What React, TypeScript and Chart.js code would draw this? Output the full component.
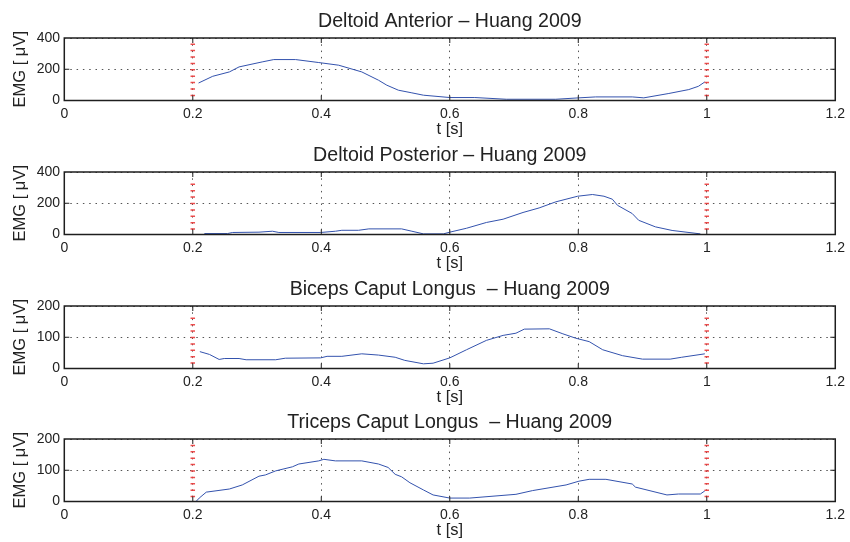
import React, { useEffect, useRef } from "react";
import { Chart, registerables } from "chart.js";
Chart.register(...registerables);

// ---------- data ----------
const xTickValues = [0, 0.2, 0.4, 0.6, 0.8, 1.0, 1.2];
const eventTimes = [0.2, 1.0];
const panelTitles = [
  "Deltoid Anterior \u2013 Huang 2009",
  "Deltoid Posterior \u2013 Huang 2009",
  "Biceps Caput Longus  \u2013 Huang 2009",
  "Triceps Caput Longus  \u2013 Huang 2009",
];
const yMaxes = [400, 400, 200, 200];
const yTickSteps = [200, 200, 100, 100];
const markerTops = [365, 326, 163, 182];

const deltAntT = [0.209, 0.231, 0.257, 0.272, 0.308, 0.326, 0.36, 0.396, 0.427, 0.463, 0.489, 0.502, 0.52, 0.541, 0.559, 0.6, 0.639, 0.688, 0.765, 0.801, 0.827, 0.884, 0.902, 0.941, 0.972, 0.987, 0.997];
const deltAntV = [112, 155, 183, 215, 247, 262, 262, 243, 226, 183, 130, 98, 66, 49, 34, 19, 19, 8, 8, 17, 23, 23, 17, 45, 70, 91, 119];

const deltPostT = [0.218, 0.254, 0.262, 0.303, 0.324, 0.334, 0.399, 0.422, 0.432, 0.458, 0.474, 0.525, 0.541, 0.559, 0.59, 0.6, 0.626, 0.657, 0.683, 0.714, 0.739, 0.765, 0.799, 0.822, 0.84, 0.853, 0.861, 0.884, 0.894, 0.92, 0.946, 0.99];
const deltPostV = [6, 6, 13, 15, 21, 13, 13, 21, 27, 27, 36, 36, 21, 4, 4, 15, 40, 77, 98, 141, 170, 209, 245, 256, 245, 226, 187, 134, 91, 49, 26, 4];

const bicepsT = [0.211, 0.226, 0.241, 0.249, 0.272, 0.283, 0.329, 0.344, 0.399, 0.409, 0.432, 0.463, 0.489, 0.515, 0.53, 0.559, 0.574, 0.6, 0.626, 0.657, 0.683, 0.703, 0.716, 0.755, 0.776, 0.796, 0.817, 0.838, 0.869, 0.9, 0.943, 0.961, 0.997];
const bicepsV = [54, 45, 29, 32, 32, 28, 28, 33, 34, 39, 39, 47, 43, 36, 26, 15, 17, 34, 60, 90, 106, 113, 126, 127, 111, 97, 86, 60, 41, 30, 30, 36, 47];

const tricepsT = [0.205, 0.21, 0.221, 0.257, 0.277, 0.303, 0.313, 0.329, 0.355, 0.365, 0.396, 0.404, 0.422, 0.463, 0.489, 0.504, 0.515, 0.525, 0.538, 0.559, 0.574, 0.6, 0.631, 0.703, 0.729, 0.781, 0.801, 0.817, 0.843, 0.884, 0.889, 0.938, 0.956, 0.99, 0.997];
const tricepsV = [0, 11, 30, 40, 53, 81, 85, 98, 111, 120, 130, 135, 130, 130, 120, 109, 87, 79, 60, 37, 21, 11, 11, 23, 35, 53, 65, 71, 71, 56, 46, 21, 24, 24, 34];

const seriesT = [deltAntT, deltPostT, bicepsT, tricepsT];
const seriesV = [deltAntV, deltPostV, bicepsV, tricepsV];

// ---------- style ----------
const FONT = "'Liberation Sans', Arial, Helvetica, sans-serif";
const TEXT = "#222";
const BLUE = "#3352ad";
const RED = "rgba(236,60,60,0.9)";
const panelTops = [0, 134, 268, 401];
const CANVAS_W = 850;
const CANVAS_H = 150;

const fmtTick = (v: number) => String(Number(v.toFixed(1)));

const matlabFrame = {
  id: "matlabFrame",
  afterDatasetsDraw(chart: any) {
    const { ctx, chartArea, scales } = chart;
    const { left, right, top, bottom } = chartArea;
    ctx.save();
    ctx.strokeStyle = "#1e1e1e";
    ctx.lineWidth = 1;
    ctx.setLineDash([]);
    const tl = 5;
    ctx.beginPath();
    for (const v of xTickValues) {
      if (v <= 0 || v >= 1.2) continue;
      const x = scales.x.getPixelForValue(v);
      ctx.moveTo(x, top);
      ctx.lineTo(x, top + tl);
      ctx.moveTo(x, bottom);
      ctx.lineTo(x, bottom - tl);
    }
    for (const t of scales.y.ticks) {
      const y = scales.y.getPixelForValue(t.value);
      if (Math.abs(y - top) < 1 || Math.abs(y - bottom) < 1) continue;
      ctx.moveTo(left, y);
      ctx.lineTo(left + tl, y);
      ctx.moveTo(right, y);
      ctx.lineTo(right - tl, y);
    }
    ctx.stroke();
    ctx.lineWidth = 1.5;
    ctx.strokeRect(left, top, right - left, bottom - top);
    ctx.restore();
  },
  afterDraw(chart: any, _args: any, opts: any) {
    const { ctx, chartArea } = chart;
    ctx.save();
    ctx.font = `19.6px ${FONT}`;
    ctx.fillStyle = TEXT;
    ctx.textAlign = "center";
    ctx.textBaseline = "alphabetic";
    ctx.fillText(opts.title || "", (chartArea.left + chartArea.right) / 2, chartArea.top - 11);
    ctx.restore();
  },
};

function Panel({ idx }: { idx: number }) {
  const ref = useRef<HTMLCanvasElement>(null);
  useEffect(() => {
    if (!ref.current) return;
    const yMax = yMaxes[idx];
    const step = yTickSteps[idx];
    const yTicks: number[] = [];
    for (let v = 0; v <= yMax + 1e-9; v += step) yTicks.push(v);

    const datasets: any[] = [
      {
        data: seriesT[idx].map((x, i) => ({ x, y: seriesV[idx][i] })),
        borderColor: BLUE,
        borderWidth: 1,
        pointRadius: 0,
        tension: 0,
        order: 1,
      },
      ...eventTimes.map((t) => ({
        data: [
          { x: t, y: markerTops[idx] },
          { x: t, y: 0 },
        ],
        borderColor: RED,
        borderWidth: 4.5,
        borderDash: [1.5, 4.9],
        borderCapStyle: "butt",
        borderJoinStyle: "miter",
        pointRadius: 0,
        tension: 0,
        order: 0,
      })),
    ];

    const gridCommon = { color: "#555", lineWidth: 1, drawTicks: false };
    const chart = new Chart(ref.current, {
      type: "line",
      data: { datasets },
      plugins: [matlabFrame as any],
      options: {
        animation: false,
        responsive: false,
        maintainAspectRatio: false,
        layout: { padding: { top: 38, right: 11, left: 0, bottom: 0 } },
        plugins: {
          legend: { display: false },
          tooltip: { enabled: false },
          title: { display: false },
          matlabFrame: { title: panelTitles[idx] },
        } as any,
        scales: {
          x: {
            type: "linear",
            min: 0,
            max: 1.2,
            afterBuildTicks: (s: any) => {
              s.ticks = xTickValues.map((value) => ({ value }));
            },
            afterFit: (s: any) => {
              s.height = CANVAS_H - 100.5;
            },
            ticks: {
              callback: (v: any) => fmtTick(Number(v)),
              font: { family: FONT, size: 14 },
              color: TEXT,
              padding: 5,
              maxRotation: 0,
              autoSkip: false,
            },
            grid: gridCommon,
            border: { display: false, dash: [1.5, 4.8] },
            title: {
              display: true,
              text: "t [s]",
              font: { family: FONT, size: 16.5 },
              color: TEXT,
              padding: { top: 0, bottom: 10.3 },
            },
          },
          y: {
            type: "linear",
            min: 0,
            max: yMax,
            afterBuildTicks: (s: any) => {
              s.ticks = yTicks.map((value) => ({ value }));
            },
            afterFit: (s: any) => {
              s.width = 64.3;
            },
            ticks: {
              callback: (v: any) => String(v),
              font: { family: FONT, size: 14 },
              color: TEXT,
              padding: 4.3,
            },
            grid: gridCommon,
            border: { display: false, dash: [1.5, 4.8] },
            title: {
              display: true,
              text: "EMG [ \u03bcV]",
              font: { family: FONT, size: 16.5 },
              color: TEXT,
              padding: { top: 10.4, bottom: 0 },
            },
          },
        },
      } as any,
    });
    return () => chart.destroy();
  }, [idx]);
  return (
    <canvas
      ref={ref}
      width={CANVAS_W}
      height={CANVAS_H}
      style={{ position: "absolute", left: 0, top: panelTops[idx], width: CANVAS_W, height: CANVAS_H }}
    />
  );
}

export default function App() {
  return (
    <div
      style={{
        position: "fixed",
        left: 0,
        top: 0,
        width: 850,
        height: 542,
        background: "#fff",
        overflow: "hidden",
      }}
    >
      {[0, 1, 2, 3].map((i) => (
        <Panel key={i} idx={i} />
      ))}
    </div>
  );
}
